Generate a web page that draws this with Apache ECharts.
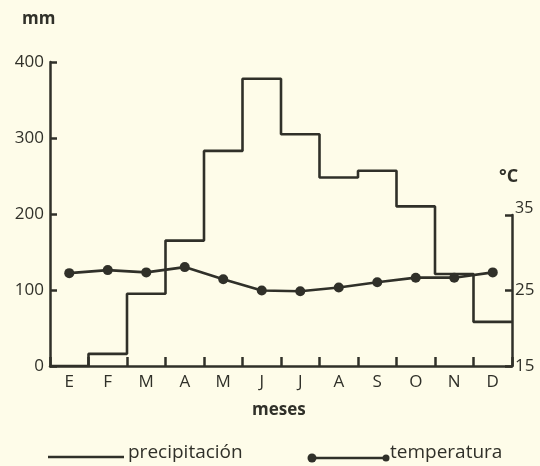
<!DOCTYPE html>
<html>
<head>
<meta charset="utf-8">
<script src="https://cdn.jsdelivr.net/npm/echarts@6/dist/echarts.min.js"></script>
<style>
  html, body { margin: 0; padding: 0; background: #fefce9; }
  #chart { width: 540px; height: 466px; }
</style>
</head>
<body>
<div id="chart"></div>
<script>
// meses del año
const months = ['E', 'F', 'M', 'A', 'M', 'J', 'J', 'A', 'S', 'O', 'N', 'D'];
// precipitación (mm)
const precipitation = [0, 16, 95, 165, 283, 378, 305, 248, 257, 210, 121, 58];
// temperatura (°C)
const temperature = [27.3, 27.7, 27.4, 28.1, 26.5, 25.0, 24.9, 25.4, 26.1, 26.7, 26.7, 27.4];
const mmTicks = [0, 400, 100];
const tempTicks = [15, 35, 10];

const ink = '#303029';
const font = '"Open Sans", Lato, sans-serif';

// step line: each value held across its whole month band
const precipSteps = precipitation.map((v, i) => [i, v]);
precipSteps.push([months.length, precipitation[precipitation.length - 1]]);

const chart = echarts.init(document.getElementById('chart'));

const option = {
  animation: false,
  grid: [
    { left: 50, right: 28, top: 62, bottom: 100 },   // ejes mm + meses
    { left: 50, right: 28, top: 215, bottom: 100 },  // eje °C
    { left: 50, right: 28, top: 62, bottom: 100 }    // escalones de precipitación
  ],
  xAxis: [
    {
      type: 'category', gridIndex: 0, data: months,
      axisLine: { show: true, lineStyle: { color: ink, width: 2.5 } },
      axisTick: { show: true, inside: true, length: 9, lineStyle: { color: ink, width: 2.5 } },
      axisLabel: { color: ink, fontFamily: font, fontSize: 17, margin: 8 }
    },
    { type: 'value', gridIndex: 2, min: 0, max: months.length, show: false },
    { type: 'category', gridIndex: 1, data: months, show: false }
  ],
  yAxis: [
    {
      type: 'value', gridIndex: 0, min: mmTicks[0], max: mmTicks[1], interval: mmTicks[2],
      splitLine: { show: false },
      axisLine: { show: true, lineStyle: { color: ink, width: 2.5 } },
      axisTick: { show: true, inside: true, length: 7, lineStyle: { color: ink, width: 2.5 } },
      axisLabel: { color: ink, fontFamily: font, fontSize: 17, margin: 6 }
    },
    {
      type: 'value', gridIndex: 1, position: 'right',
      min: tempTicks[0], max: tempTicks[1], interval: tempTicks[2],
      splitLine: { show: false },
      axisLine: { show: true, lineStyle: { color: ink, width: 2.5 } },
      axisTick: { show: true, inside: true, length: 7, lineStyle: { color: ink, width: 2.5 } },
      axisLabel: {
        color: ink, fontFamily: font, fontSize: 17, margin: 3,
        formatter: v => v === tempTicks[1] ? '{sup|' + v + '}' : String(v),
        rich: { sup: { fontSize: 16, fontFamily: font, color: ink, padding: [0, 0, 14, 0] } }
      }
    },
    { type: 'value', gridIndex: 2, min: mmTicks[0], max: mmTicks[1], show: false }
  ],
  series: [
    {
      name: 'precipitación', type: 'line', step: 'end',
      xAxisIndex: 1, yAxisIndex: 2,
      data: precipSteps, showSymbol: false,
      lineStyle: { color: ink, width: 2.6 }
    },
    {
      name: 'temperatura', type: 'line',
      xAxisIndex: 2, yAxisIndex: 1,
      data: temperature, symbol: 'circle', symbolSize: 10,
      itemStyle: { color: ink },
      lineStyle: { color: ink, width: 2.6 }
    }
  ],
  graphic: [
    { type: 'text', left: 22, top: 11, style: { text: 'mm', font: 'bold 17px ' + font, fill: ink } },
    { type: 'text', left: 499, top: 168, style: { text: '°C', font: 'bold 18px ' + font, fill: ink } },
    { type: 'text', left: 252, top: 402, style: { text: 'meses', font: 'bold 17px ' + font, fill: ink } },
    // leyenda
    { type: 'line', shape: { x1: 48, y1: 457, x2: 124, y2: 457 }, style: { stroke: ink, lineWidth: 2.5 } },
    { type: 'text', left: 128, top: 443, style: { text: 'precipitación', font: '19px ' + font, fill: ink } },
    { type: 'line', shape: { x1: 312, y1: 458, x2: 386, y2: 458 }, style: { stroke: ink, lineWidth: 2.5 } },
    { type: 'circle', shape: { cx: 312, cy: 458, r: 4.5 }, style: { fill: ink } },
    { type: 'circle', shape: { cx: 386, cy: 458, r: 3.5 }, style: { fill: ink } },
    { type: 'text', left: 390, top: 443, style: { text: 'temperatura', font: '19px ' + font, fill: ink } }
  ]
};

chart.setOption(option);
</script>
</body>
</html>
